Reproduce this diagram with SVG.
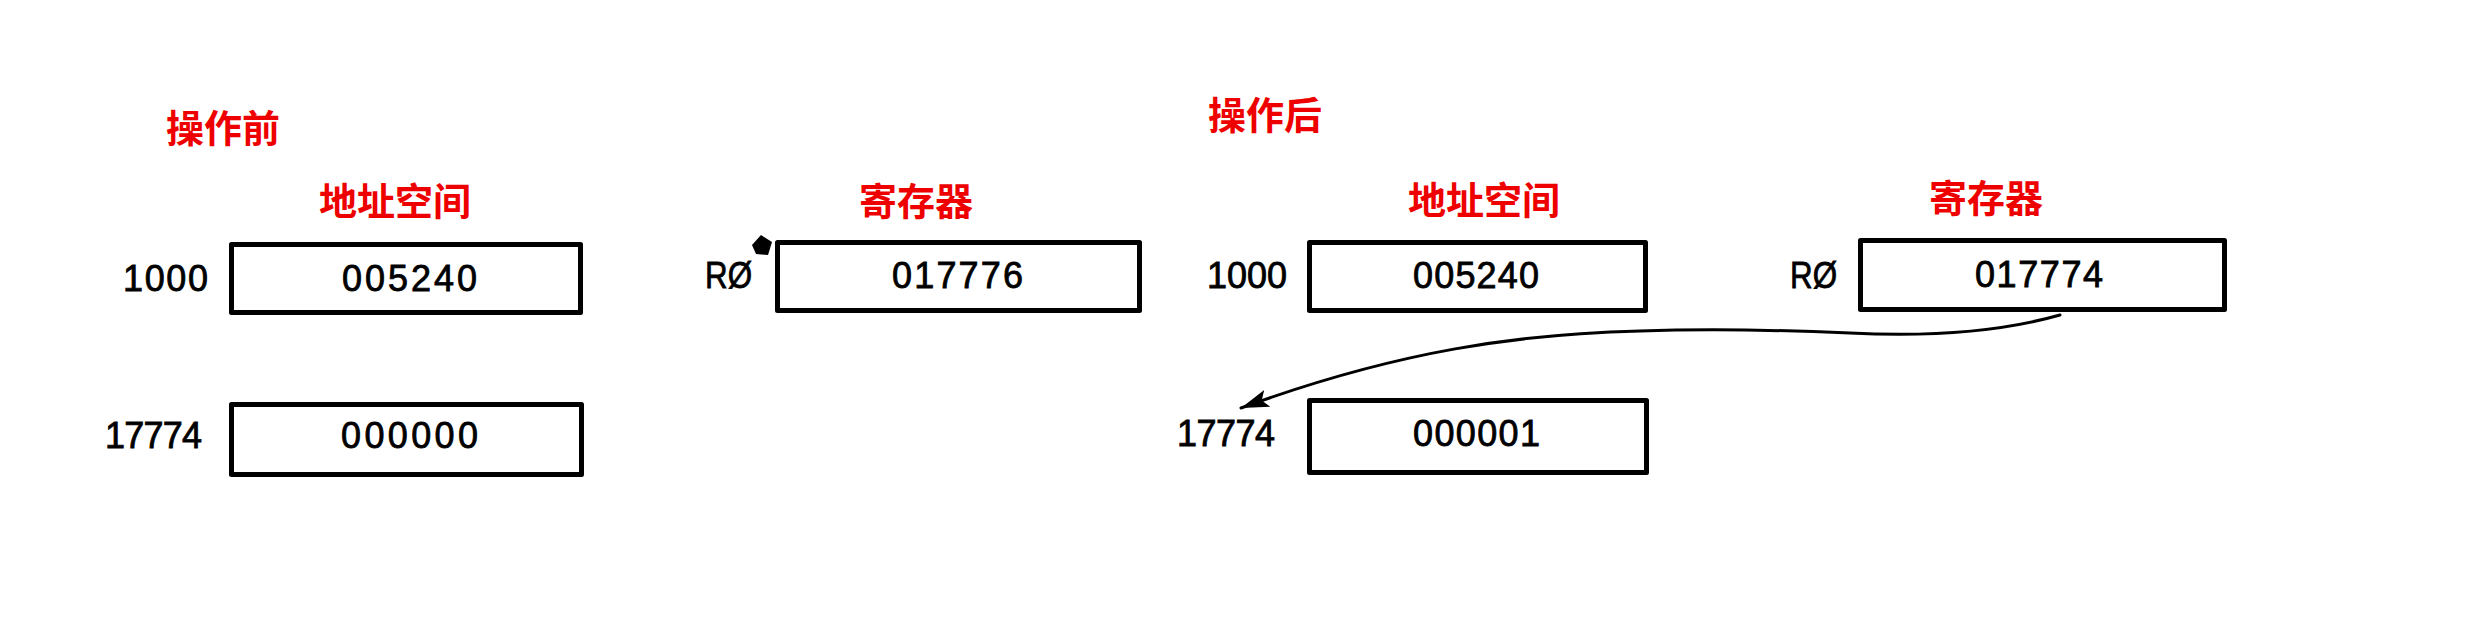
<svg xmlns="http://www.w3.org/2000/svg" width="2490" height="624" viewBox="0 0 2490 624">
<style>
.title{font-family:"Noto Sans CJK SC",sans-serif;font-weight:700;font-size:38px;fill:#ee0000}
.box{fill:#fff;stroke:#000;stroke-width:5;stroke-linejoin:round}
.val{font-family:"Liberation Sans",Arial,sans-serif;font-size:36px;fill:#000;stroke:#000;stroke-width:0.8;text-anchor:middle}
.lbl{font-family:"Liberation Sans",Arial,sans-serif;font-size:36px;fill:#000;stroke:#000;stroke-width:0.8;text-anchor:end}
.conn{fill:none;stroke:#000;stroke-width:3;stroke-linecap:round}
</style>
<defs>
<marker id="arr" markerUnits="userSpaceOnUse" markerWidth="30" markerHeight="20" refX="28" refY="9" orient="auto">
<path d="M0,0 L28,9 L0,18 L6,9 z" fill="#000"/>
</marker>
</defs>
<rect width="2490" height="624" fill="#fff"/>
<g id="titles">
<text class="title" x="166" y="142">操作前</text>
<text class="title" x="1208" y="129">操作后</text>
<text class="title" x="319" y="215">地址空间</text>
<text class="title" x="859" y="215">寄存器</text>
<text class="title" x="1408" y="214">地址空间</text>
<text class="title" x="1929" y="212">寄存器</text>
</g>
<g id="before-mem-1000">
<rect class="box" x="231.5" y="244.5" width="349" height="68"/>
<text class="lbl" x="208" y="291" textLength="85">1000</text>
<text class="val" x="409.5" y="291" textLength="135">005240</text>
</g>
<g id="before-mem-17774">
<rect class="box" x="231.5" y="404.5" width="350" height="70"/>
<text class="lbl" x="202" y="448" textLength="97">17774</text>
<text class="val" x="409.5" y="448" textLength="137">000000</text>
</g>
<g id="before-reg-r0">
<rect class="box" x="777.5" y="242.5" width="362" height="68"/>
<path d="M752,245 L761,235 L772,242 L768,255 L756,254 z" fill="#000"/>
<text class="lbl" x="752" y="288" textLength="47" lengthAdjust="spacingAndGlyphs">RØ</text>
<text class="val" x="957.5" y="288" textLength="131">017776</text>
</g>
<g id="after-mem-1000">
<rect class="box" x="1309.5" y="242.5" width="336" height="68"/>
<text class="lbl" x="1287" y="288" textLength="80">1000</text>
<text class="val" x="1476" y="288" textLength="126">005240</text>
</g>
<g id="after-mem-17774">
<rect class="box" x="1309.5" y="400.5" width="337" height="72"/>
<text class="lbl" x="1275" y="446" textLength="98">17774</text>
<text class="val" x="1476.5" y="446" textLength="127">000001</text>
</g>
<g id="after-reg-r0">
<rect class="box" x="1860.5" y="240.5" width="364" height="69"/>
<text class="lbl" x="1837" y="288" textLength="47" lengthAdjust="spacingAndGlyphs">RØ</text>
<text class="val" x="2039" y="287" textLength="128">017774</text>
</g>
<g id="connectors">
<path class="conn" marker-end="url(#arr)" d="M2060,315 C2000,332 1930,337 1850,333 C1780,330 1700,329 1640,331 C1520,334 1400,350 1241,408"/>
</g>
</svg>
